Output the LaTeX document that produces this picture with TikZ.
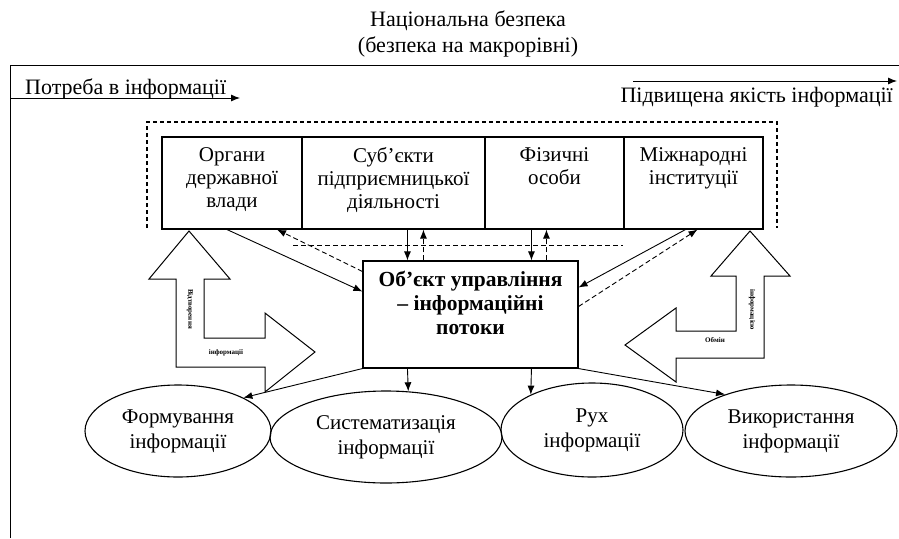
\documentclass[tikz,border=0pt]{standalone}
\usepackage{fontspec}
\setmainfont{Liberation Serif}
\usetikzlibrary{shapes.geometric,arrows.meta}

\begin{document}
\begin{tikzpicture}[x=1pt,y=-1pt]
 \tikzstyle{blok}=[rectangle, draw, line width=1.1pt, inner sep=0pt, minimum height=92pt]
 \tikzstyle{etap}=[ellipse, draw, line width=1.1pt, inner sep=0pt, align=center, font=\fontsize{21}{25}\selectfont]
 \tikzstyle{napys}=[align=center, inner sep=0pt, font=\fontsize{21}{23}\selectfont]
 \tikzstyle{strilka}=[->, >={Latex[length=9pt,width=7pt]}, line width=0.9pt]
 \tikzstyle{zvorot}=[strilka, dash pattern=on 5pt off 3pt]
 \tikzstyle{shyroka}=[draw, line width=1pt, line join=miter]
 \tikzstyle{drib}=[font=\fontsize{7}{7}\selectfont\bfseries, inner sep=0pt]
 %
 \useasboundingbox (0,0) rectangle (899,538);
 %
 \node[napys, font=\fontsize{22}{26}\selectfont] (bezpeka) at (468,34) {Національна безпека\\(безпека на макрорівні)};
 \coordinate (ramka-n) at (10,538);
 \coordinate (ramka-k) at (10,65);
 \coordinate (ramka-p) at (899,65);
 \draw[line width=0.9pt] (ramka-n)--(ramka-k)--(ramka-p);
 %
 \coordinate (potreba-a) at (10,98);
 \coordinate (potreba-b) at (240,98);
 \draw[strilka] (potreba-a)--(potreba-b);
 \node[napys, anchor=base west, font=\fontsize{22}{26}\selectfont] (potreba) at (25,94) {Потреба в інформації};
 \coordinate (yakist-a) at (633,81);
 \coordinate (yakist-b) at (897,81);
 \draw[strilka] (yakist-a)--(yakist-b);
 \node[napys, anchor=base east, font=\fontsize{22}{26}\selectfont] (yakist) at (893,102) {Підвищена якість інформації};
 %
 \coordinate (pun-1) at (147,228);
 \coordinate (pun-2) at (147,122);
 \coordinate (pun-3) at (777,122);
 \coordinate (pun-4) at (777,228);
 \draw[line width=1.1pt, dash pattern=on 4pt off 3pt] (pun-1)--(pun-2)--(pun-3)--(pun-4);
 %
 \node[blok, minimum width=140pt] (organy) at (232,183) {};
 \node[blok, minimum width=183pt] (subjekty) at (393.5,183) {};
 \node[blok, minimum width=139pt] (fizychni) at (554.5,183) {};
 \node[blok, minimum width=139pt] (mizhnar) at (693.5,183) {};
 \node[napys, anchor=north] (organy-t) at ([yshift=-11pt]organy.north) {Органи\\державної\\влади};
 \node[napys, anchor=north] (subjekty-t) at ([yshift=-11pt]subjekty.north) {Суб'єкти\\підприємницької\\діяльності};
 \node[napys, anchor=north] (fizychni-t) at ([yshift=-11pt]fizychni.north) {Фізичні\\особи};
 \node[napys, anchor=north] (mizhnar-t) at ([yshift=-11pt]mizhnar.north) {Міжнародні\\інституції};
 %
 \node[blok, minimum width=215pt, minimum height=107pt] (obiekt) at (470.5,314.5) {};
 \node[napys, anchor=north, font=\fontsize{21.5}{24}\selectfont\bfseries] (obiekt-t) at ([yshift=-10pt]obiekt.north) {Об'єкт управління\\– інформаційні\\потоки};
 %
 \node[etap, minimum width=186pt, minimum height=92pt] (formuv) at (178,431) {Формування\\інформації};
 \node[etap, minimum width=232pt, minimum height=92pt] (system) at (386,437) {Систематизація\\інформації};
 \node[etap, minimum width=182pt, minimum height=94pt] (rukh) at (592,430) {Рух\\інформації};
 \node[etap, minimum width=212pt, minimum height=92pt] (vykor) at (791,431) {Використання\\інформації};
 %
 \draw[shyroka] (189,231)--(230,279)--(204,279)--(204,338)--(265,338)--(265,313)--(315,352)--(265,392)--(265,367)--(176,367)--(176,279)--(149,279)--cycle;
 \node[drib, rotate=-90] (vidtv) at (190,309) {Відтворення};
 \node[drib] (vidtv-i) at (226,353) {інформації};
 \draw[shyroka] (750,231)--(790,276)--(764,276)--(764,358)--(676,358)--(676,382)--(625,345)--(676,308)--(676,331)--(736,331)--(736,276)--(711,276)--cycle;
 \node[drib] (obmin) at (715,340) {Обмін};
 \node[drib, rotate=-90] (obmin-i) at (752,310) {інформацією};
 %
 \coordinate (shyna-l) at (293,245);
 \coordinate (shyna-p) at (623,245);
 \draw[line width=0.9pt, dash pattern=on 5pt off 3pt] (shyna-l)--(shyna-p);
 %%
 \draw[strilka] ([xshift=-5pt]organy.south)--([yshift=23pt]obiekt.west);
 \draw[zvorot] ([yshift=43pt]obiekt.west)--([xshift=45pt]organy.south);
 \draw[strilka] ([xshift=45pt]obiekt.north west |- subjekty.south)--([xshift=45pt]obiekt.north west);
 \draw[zvorot] ([xshift=61pt]obiekt.north west)--([xshift=61pt]obiekt.north west |- subjekty.south);
 \draw[strilka] ([xshift=169pt]obiekt.north west |- fizychni.south)--([xshift=169pt]obiekt.north west);
 \draw[zvorot] ([xshift=184pt]obiekt.north west)--([xshift=184pt]obiekt.north west |- fizychni.south);
 \draw[strilka] ([xshift=-8pt]mizhnar.south)--([yshift=27pt]obiekt.east);
 \draw[zvorot] ([yshift=8pt]obiekt.east)--([xshift=4pt]mizhnar.south);
 %%
 \draw[strilka] (obiekt.south west)--(formuv.27);
 \draw[strilka] ([xshift=45pt]obiekt.south west)--(system.64);
 \draw[strilka] ([xshift=169pt]obiekt.south west)--(rukh.150);
 \draw[strilka] (obiekt.south east)--(vykor.151);
\end{tikzpicture}
\end{document}
